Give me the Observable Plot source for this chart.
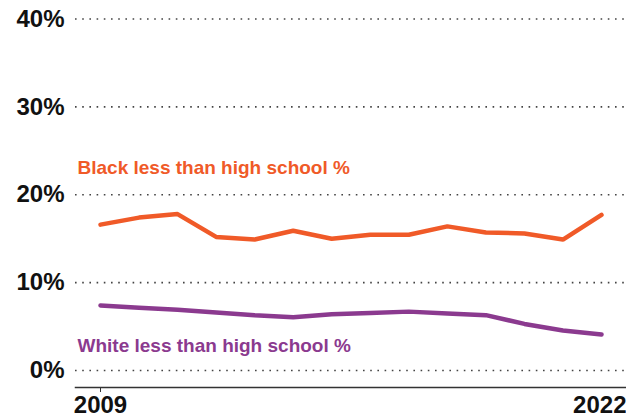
<!DOCTYPE html>
<html>
<head>
<meta charset="utf-8">
<script src="https://cdn.jsdelivr.net/npm/d3@7"></script>
<script src="https://cdn.jsdelivr.net/npm/@observablehq/plot@0.6"></script>
<style>
  html, body { margin: 0; padding: 0; background: #fff; }
  body { width: 626px; height: 420px; overflow: hidden; font-family: "Liberation Sans", Arial, sans-serif; }
</style>
</head>
<body>
<div id="chart"></div>
<script>
const years = [2009, 2010, 2011, 2012, 2013, 2014, 2015, 2016, 2017, 2018, 2019, 2020, 2021, 2022];
const blackLessThanHS = [16.6, 17.4, 17.8, 15.2, 14.9, 15.9, 15.0, 15.45, 15.45, 16.4, 15.7, 15.6, 14.9, 17.7];
const whiteLessThanHS = [7.4, 7.15, 6.9, 6.6, 6.3, 6.05, 6.4, 6.55, 6.7, 6.5, 6.3, 5.3, 4.55, 4.1];
const yTicks = [0, 10, 20, 30, 40];
const xTicks = [2009, 2022];
const seriesLabels = ["Black less than high school %", "White less than high school %"];
const labelY = [23, 2.85];
const colors = ["#f05a28", "#8b3a8f"];

const black = years.map((y, i) => ({year: y, value: blackLessThanHS[i]}));
const white = years.map((y, i) => ({year: y, value: whiteLessThanHS[i]}));
const labels = seriesLabels.map((t, i) => ({text: t, year: years[0], value: labelY[i], color: colors[i]}));

const xAxisStyle = {tickSize: 5, tickPadding: 3, tickFormat: d => String(d), fontSize: 24, fontWeight: "bold", fill: "#111", stroke: "#333", label: null};

const chart = Plot.plot({
  width: 626,
  height: 420,
  marginLeft: 75,
  marginRight: 0,
  marginTop: 0,
  marginBottom: 33,
  style: {fontFamily: "'Liberation Sans', Arial, sans-serif", background: "#fff"},
  x: {domain: [2009, 2022], range: [100, 601]},
  y: {domain: [0, 40], range: [370, 18.5]},
  marks: [
    Plot.ruleY(yTicks, {stroke: "#444", strokeWidth: 1.6, strokeDasharray: "1.6,5.6"}),
    Plot.frame({anchor: "bottom", stroke: "#333", strokeWidth: 1.5}),
    Plot.axisY({ticks: yTicks, tickSize: 0, tickPadding: 11, tickFormat: d => d + "%", fontSize: 24, fontWeight: "bold", fill: "#111", label: null}),
    Plot.axisX({...xAxisStyle, ticks: [xTicks[0]]}),
    Plot.axisX({...xAxisStyle, ticks: [xTicks[1]], textAnchor: "end", dx: 25}),
    Plot.line(black, {x: "year", y: "value", stroke: colors[0], strokeWidth: 4.5, strokeLinejoin: "miter"}),
    Plot.line(white, {x: "year", y: "value", stroke: colors[1], strokeWidth: 4.5, strokeLinejoin: "miter"}),
    Plot.text(labels, {x: "year", y: "value", text: "text", fill: "color", textAnchor: "start", dx: -23, fontSize: 19, fontWeight: "bold"})
  ]
});
document.getElementById("chart").appendChild(chart);
</script>
</body>
</html>
